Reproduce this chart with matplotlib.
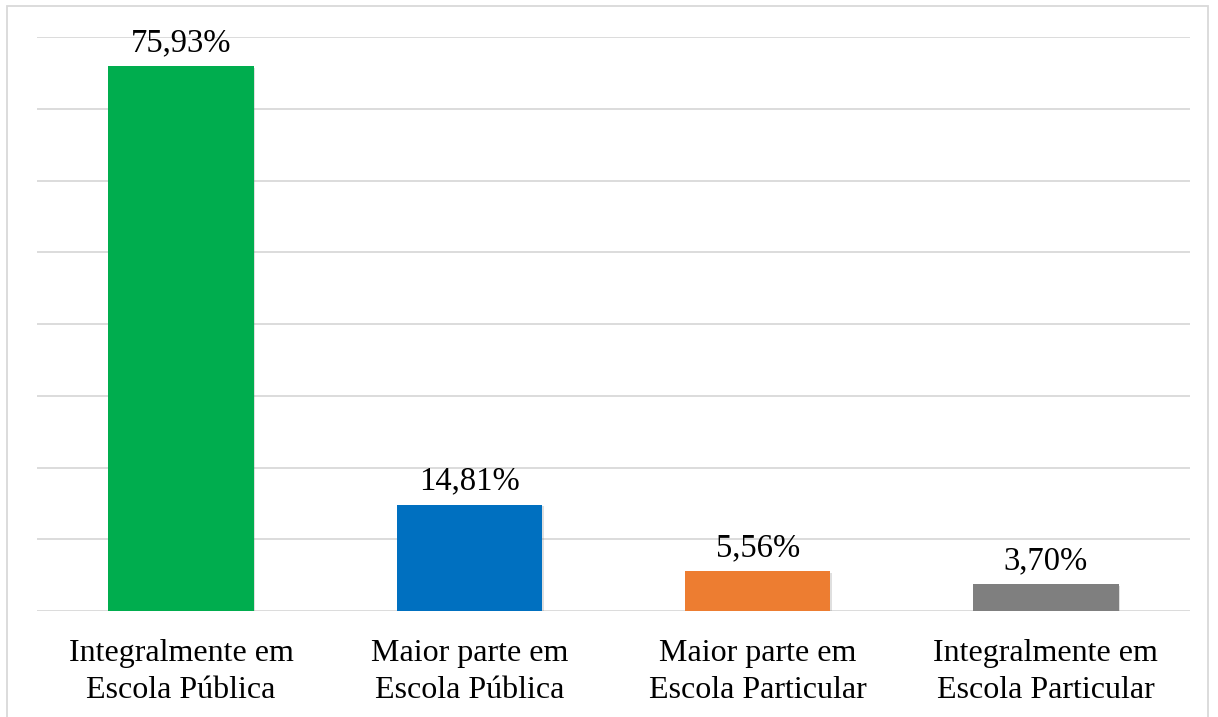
import matplotlib
matplotlib.use("Agg")
import matplotlib.pyplot as plt
from matplotlib import patheffects as pe
from matplotlib.patches import Rectangle

categories = ["Integralmente em\nEscola Pública", "Maior parte em\nEscola Pública",
              "Maior parte em\nEscola Particular", "Integralmente em\nEscola Particular"]
values = [75.93, 14.81, 5.56, 3.70]
labels = ["75,93%", "14,81%", "5,56%", "3,70%"]
colors = ["#00AD4E", "#0070C0", "#ED7D31", "#7F7F7F"]

plt.rcParams['font.family'] = ['Liberation Serif', 'DejaVu Serif']

fig = plt.figure(figsize=(12.18, 7.17), dpi=100)
ax = fig.add_axes([0.0304, 0.1478, 0.9466, 0.8006])

x = range(len(categories))
bars = ax.bar(x, values, width=0.505, color=colors, zorder=3)
for b in bars:
    b.set_path_effects([pe.SimplePatchShadow(offset=(1, -1), alpha=0.25, shadow_rgbFace='gray'), pe.Normal()])

for xi, v, lab in zip(x, values, labels):
    ax.annotate(lab, (xi, v), xytext=(0, 6), textcoords='offset points',
                ha='center', va='bottom', fontsize=23.5, color='black')

ax.set_ylim(0, 80)
ax.set_xlim(-0.5, 3.5)
ax.set_yticks(range(0, 81, 10))
ax.set_yticklabels([])
ax.tick_params(axis='y', length=0)
ax.tick_params(axis='x', length=0, pad=20, labelsize=23)
ax.set_xticks(list(x))
ax.set_xticklabels(categories, linespacing=1.38)
ax.grid(axis='y', color='#D9D9D9', linewidth=1.3, zorder=0)
for s in ax.spines.values():
    s.set_visible(False)

fig.patches.append(Rectangle((7/1218, -0.01), (1208-7)/1218, 1 - 6/717 + 0.01,
                             transform=fig.transFigure, fill=False,
                             edgecolor='#D9D9D9', linewidth=1.3))

fig.savefig("out.png", dpi=100)
